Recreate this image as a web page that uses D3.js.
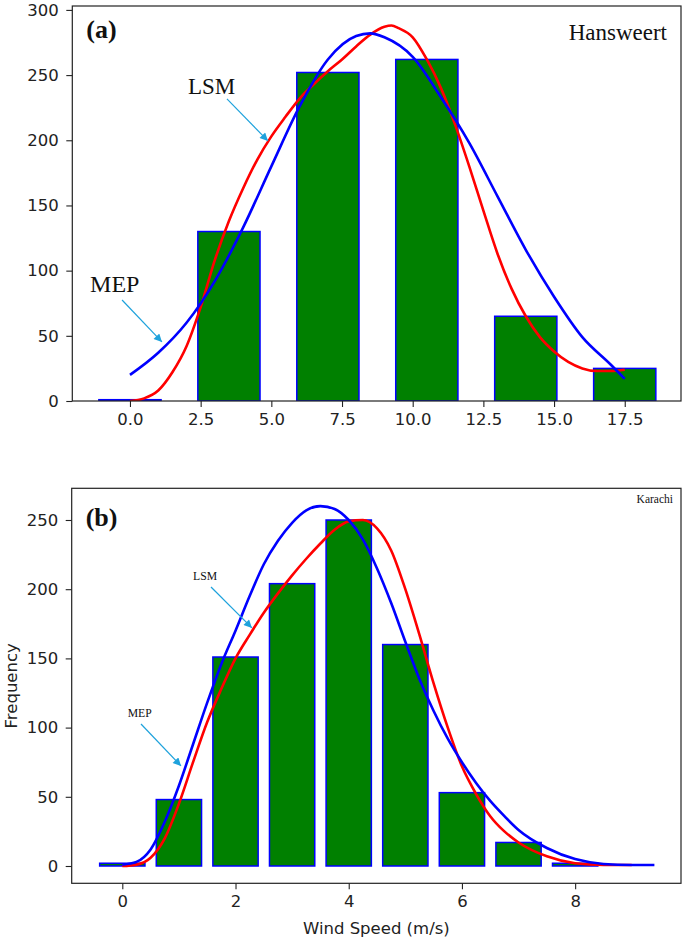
<!DOCTYPE html>
<html><head><meta charset="utf-8">
<script src="https://cdn.jsdelivr.net/npm/d3@7"></script>
<style>body{margin:0;background:#fff}svg{display:block}</style>
</head><body>
<svg id="c" width="685" height="941"></svg>
<script>
// ---------- Panel (a): Hansweert ----------
const binsA = [0, 3.5, 7, 10.5, 14, 17.5];
const freqA = [1, 130, 252, 262, 65, 25];
const mepAx = [0,1,2,3,4,5,6,7,8,8.5,9,10,11,12,13,14,15,16,17,17.5];
const mepAy = [20,37,60,92,133,180,226,262,280,282,279,264,233,198,157,116,80,49,28,17];
const lsmAx = [0,0.5,1,1.5,2,2.5,3,3.5,4,4.5,5,5.5,6,6.5,7,7.5,8,8.5,9,9.25,9.5,10,10.5,11,11.5,12,12.5,13,13.5,14,14.5,15,15.5,16,16.5,17,17.5];
const lsmAy = [0,2,8,22,42,72,108,138,163,185,203,218,232,243,253,262,272,281,287,288,286,279,262,240,212,180,146,113,86,65,49,38,30,25,23,23,24];
const xTicksA = [0,2.5,5,7.5,10,12.5,15,17.5];
const yTicksA = [0,50,100,150,200,250,300];

// ---------- Panel (b): Karachi ----------
const binsB = [0,1,2,3,4,5,6,7,8];
const freqB = [2,48,151,204,250,160,53,17,2];
const mepBx = [0,0.25,0.5,0.75,1,1.25,1.5,1.75,2,2.25,2.5,2.75,3,3.25,3.5,3.75,4,4.25,4.5,4.75,5,5.25,5.5,5.75,6,6.25,6.5,6.75,7,7.5,8,8.5,9,9.4];
const mepBy = [1,3,12,32,58,88,118,146,170,195,218,235,248,257,260,258,250,236,215,190,162,135,112,92,75,60,47,36,26,13,5,1.5,0.7,0.7];
const lsmBx = [0,0.25,0.5,0.75,1,1.25,1.5,1.75,2,2.25,2.5,2.75,3,3.25,3.5,3.75,4,4.25,4.5,4.75,5,5.25,5.5,5.75,6,6.25,6.5,6.75,7,7.5,8,8.5,9];
const lsmBy = [0,1,6,20,45,75,104,128,150,167,183,197,210,222,233,243,249,250,244,228,200,167,132,100,72,52,36,25,17,7,2,0.7,0.7];
const xTicksB = [0,2,4,6,8];
const yTicksB = [0,50,100,150,200,250];

const svg = d3.select("#c");
const defs = svg.append("defs");
const arrowColor = "#1ea2dc";
defs.append("marker").attr("id","ah").attr("viewBox","0 0 10 10")
  .attr("refX",10).attr("refY",5).attr("markerWidth",9).attr("markerHeight",8)
  .attr("markerUnits","userSpaceOnUse").attr("orient","auto")
  .append("path").attr("d","M0,0 L10,5 L0,10 Z").attr("fill",arrowColor);

const tickFont = "'DejaVu Sans', sans-serif";
const serif = "'Liberation Serif', 'Times New Roman', serif";

function panel(cfg){
  const g = svg.append("g");
  const x = d3.scaleLinear().domain(cfg.xDom).range([cfg.left, cfg.right]);
  const y = d3.scaleLinear().domain(cfg.yDom).range([cfg.bottom, cfg.top]);
  const clipId = "clip" + cfg.id;
  defs.append("clipPath").attr("id", clipId).append("rect")
    .attr("x", cfg.left).attr("y", cfg.top).attr("width", cfg.right-cfg.left).attr("height", cfg.bottom-cfg.top);

  const plot = g.append("g").attr("clip-path", `url(#${clipId})`);
  plot.selectAll("rect.bar").data(cfg.bins).join("rect").attr("class","bar")
    .attr("x", d => x(d - cfg.bw/2)).attr("width", x(cfg.bw) - x(0))
    .attr("y", (d,i) => y(cfg.freq[i])).attr("height", (d,i) => y(0) - y(cfg.freq[i]))
    .attr("fill","#008000").attr("stroke","#0000ff").attr("stroke-width",1.5);

  const line = d3.line().x(d => x(d[0])).y(d => y(d[1])).curve(d3.curveMonotoneX);
  const lsm = d3.zip(cfg.lsmX, cfg.lsmY), mep = d3.zip(cfg.mepX, cfg.mepY);
  plot.append("path").attr("d", line(lsm)).attr("fill","none").attr("stroke","#ff0000").attr("stroke-width",2.6);
  plot.append("path").attr("d", line(mep)).attr("fill","none").attr("stroke","#0000ff").attr("stroke-width",2.6);

  // frame
  g.append("rect").attr("x", cfg.left).attr("y", cfg.top).attr("width", cfg.right-cfg.left).attr("height", cfg.bottom-cfg.top)
    .attr("fill","none").attr("stroke","#222").attr("stroke-width",1.2);

  const xa = g.append("g").attr("transform", `translate(0,${cfg.bottom})`)
    .call(d3.axisBottom(x).tickValues(cfg.xTicks).tickFormat(cfg.xFmt).tickSize(6).tickPadding(6).tickSizeOuter(0));
  const ya = g.append("g").attr("transform", `translate(${cfg.left},0)`)
    .call(d3.axisLeft(y).tickValues(cfg.yTicks).tickFormat(d3.format("d")).tickSize(6).tickPadding(7.5).tickSizeOuter(0));
  [xa, ya].forEach(a => {
    a.select(".domain").remove();
    a.selectAll("line").attr("stroke","#222").attr("stroke-width",1.1);
    a.selectAll("text").attr("font-family", tickFont).attr("font-size", 16.5).attr("fill","#222");
  });

  // annotations
  cfg.notes.forEach(n => {
    g.append("text").attr("x", x(n.tx)).attr("y", y(n.ty)).text(n.label)
      .attr("font-family", serif).attr("font-size", n.size).attr("fill","#111");
    g.append("line").attr("x1", x(n.ax0)).attr("y1", y(n.ay0)).attr("x2", x(n.ax1)).attr("y2", y(n.ay1))
      .attr("stroke", arrowColor).attr("stroke-width", 1.2).attr("marker-end","url(#ah)");
  });
  g.append("text").attr("x", cfg.left + 14).attr("y", cfg.top + cfg.tagDy).text(cfg.tag)
    .attr("font-family", serif).attr("font-weight","bold").attr("font-size", 26).attr("fill","#111");
  g.append("text").attr("x", cfg.right - cfg.siteDx).attr("y", cfg.top + cfg.siteDy).attr("text-anchor","end").text(cfg.site)
    .attr("font-family", serif).attr("font-size", cfg.siteSize).attr("fill","#111");
  return {x, y, g};
}

panel({
  id:"a", left:72.3, right:681, top:6, bottom:401,
  xDom:[-2.04, 19.49], yDom:[0, 303],
  bins: binsA, freq: freqA, bw: 2.2,
  mepX: mepAx, mepY: mepAy, lsmX: lsmAx, lsmY: lsmAy,
  xTicks: xTicksA, xFmt: d3.format(".1f"), yTicks: yTicksA,
  notes: [
    {label:"LSM", size:23, tx:2.05, ty:235.6, ax0:3.43, ay0:231.7, ax1:4.88, ay1:199.5},
    {label:"MEP", size:24, tx:-1.41, ty:83.6, ax0:-0.28, ay0:77.5, ax1:1.13, ay1:45.3}
  ],
  tag:"(a)", tagDy:32, site:"Hansweert", siteDx:14, siteDy:33.5, siteSize:23
});

panel({
  id:"b", left:71.7, right:681, top:488.3, bottom:883.3,
  xDom:[-0.894, 9.87], yDom:[-12.5, 272.9],
  bins: binsB, freq: freqB, bw: 0.8,
  mepX: mepBx, mepY: mepBy, lsmX: lsmBx, lsmY: lsmBy,
  xTicks: xTicksB, xFmt: d3.format("d"), yTicks: yTicksB,
  notes: [
    {label:"LSM", size:11.7, tx:1.25, ty:206.6, ax0:1.567, ay0:201.6, ax1:2.29, ay1:172.0},
    {label:"MEP", size:11.7, tx:0.095, ty:107.7, ax0:0.33, ay0:102.6, ax1:1.037, ay1:72.3}
  ],
  tag:"(b)", tagDy:38, site:"Karachi", siteDx:8, siteDy:15, siteSize:11.5
});

svg.append("text").attr("x", (71.7+681)/2).attr("y", 934).attr("text-anchor","middle")
  .text("Wind Speed (m/s)").attr("font-family", tickFont).attr("font-size", 16.5).attr("fill","#222");
svg.append("text").attr("transform", `translate(17,${(488.3+883.3)/2}) rotate(-90)`).attr("text-anchor","middle")
  .text("Frequency").attr("font-family", tickFont).attr("font-size", 16.5).attr("fill","#222");
</script>
</body></html>
